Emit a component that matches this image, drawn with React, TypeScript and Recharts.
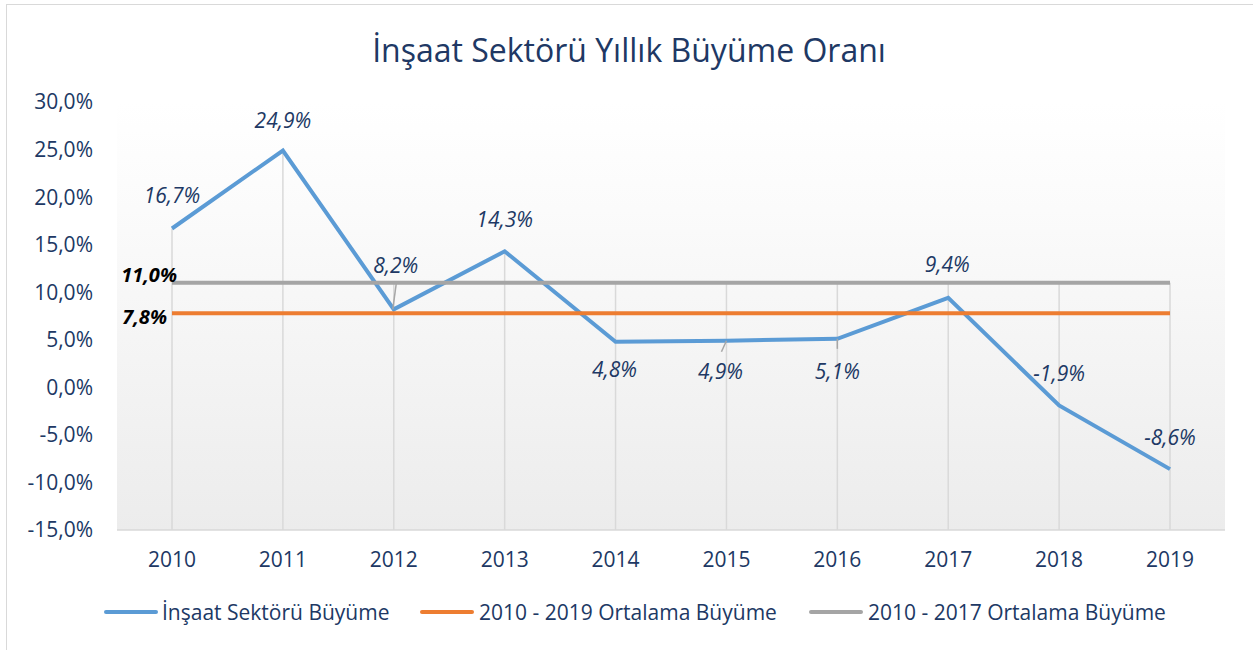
import React from 'react';
import { LineChart, Line, XAxis, YAxis, CartesianGrid, LabelList, ReferenceLine } from 'recharts';

const years = ['2010', '2011', '2012', '2013', '2014', '2015', '2016', '2017', '2018', '2019'];
const growth = [16.7, 24.9, 8.2, 14.3, 4.8, 4.9, 5.1, 9.4, -1.9, -8.6];
const avg2010to2019 = [7.8, 7.8, 7.8, 7.8, 7.8, 7.8, 7.8, 7.8, 7.8, 7.8];
const avg2010to2017 = [11.0, 11.0, 11.0, 11.0, 11.0, 11.0, 11.0, 11.0, 11.0, 11.0];
const yTicks = [-15, -10, -5, 0, 5, 10, 15, 20, 25, 30];
const seriesNames = ['İnşaat Sektörü Büyüme', '2010 - 2019 Ortalama Büyüme', '2010 - 2017 Ortalama Büyüme'];
const title = 'İnşaat Sektörü Yıllık Büyüme Oranı';

const NAVY = '#203864';
const COLORS = ['#5B9BD5', '#ED7D31', '#A5A5A5'];
const Y_MIN = -15;

const data = years.map((year, i) => ({
  year,
  growth: growth[i],
  avgA: avg2010to2019[i],
  avgB: avg2010to2017[i],
}));

// drop lines run from the highest series value down to the axis
const dropTops = years.map((_, i) => Math.max(growth[i], avg2010to2019[i], avg2010to2017[i]));

const fmt = (v: number) => `${v.toFixed(1).replace('.', ',')}%`;

// label placement relative to the point: [dx, dy, leader line]
const labelPos: [number, number, number[] | null][] = [
  [0, -33, null],
  [0, -31, null],
  [2, -44, [2.5, -26, -1, 0]],
  [0, -32, null],
  [-1, 27, null],
  [-6, 30, [-5, 11, 0, 0]],
  [0, 32, [0, 0, 0, 10]],
  [-1, -34, null],
  [0, -32, null],
  [0, -32, null],
];

const GrowthLabel = (props: any) => {
  const { x, y, value, index } = props;
  const [dx, dy, leader] = labelPos[index] || [0, -30, null];
  return (
    <g>
      {leader && (
        <line
          x1={x + leader[0]}
          y1={y + leader[1]}
          x2={x + leader[2]}
          y2={y + leader[3]}
          stroke="#a6a6a6"
          strokeWidth={1.5}
        />
      )}
      <text
        x={x + dx}
        y={y + dy}
        textAnchor="middle"
        dominantBaseline="central"
        fontStyle="italic"
        fontSize={21}
        fill={NAVY}
      >
        {fmt(value)}
      </text>
    </g>
  );
};

const AvgLabel = (props: any, dx: number, dy: number) => {
  const { x, y, value, index } = props;
  if (index !== 0) return null;
  return (
    <text
      x={x + dx}
      y={y + dy}
      textAnchor="end"
      dominantBaseline="central"
      fontStyle="italic"
      fontWeight="bold"
      fontSize={20}
      fill="#000"
    >
      {fmt(value)}
    </text>
  );
};

const legendPos = [
  { line: 104, text: 162 },
  { line: 420, text: 479 },
  { line: 809, text: 868 },
];

export default function App() {
  return (
    <div
      style={{
        position: 'fixed',
        left: 0,
        top: 0,
        width: 1253,
        height: 650,
        overflow: 'hidden',
        background: '#fff',
        fontFamily: "'Open Sans', sans-serif",
      }}
    >
      <div
        style={{
          position: 'absolute',
          left: 6,
          top: 4,
          width: 1300,
          height: 700,
          borderLeft: '1.5px solid #d9d9d9',
          borderTop: '1.5px solid #d9d9d9',
        }}
      />
      <div
        style={{
          position: 'absolute',
          left: 0,
          top: 28,
          width: 1258,
          textAlign: 'center',
          fontSize: 32,
          lineHeight: '44px',
          color: NAVY,
        }}
      >
        {title}
      </div>
      <div style={{ position: 'absolute', left: 0, top: 0 }}>
        <LineChart width={1253} height={650} data={data} margin={{ top: 102, right: 28, left: 0, bottom: 80 }}>
          <defs>
            <linearGradient id="plotBg" x1="0" y1="0" x2="0" y2="1">
              <stop offset="0%" stopColor="#ffffff" />
              <stop offset="25%" stopColor="#fbfbfb" />
              <stop offset="100%" stopColor="#ececec" />
            </linearGradient>
          </defs>
          <CartesianGrid horizontal={false} vertical={false} fill="url(#plotBg)" fillOpacity={1} />
          <XAxis
            dataKey="year"
            height={40}
            padding={{ left: 55, right: 55 }}
            tickLine={false}
            tickSize={0}
            tickMargin={22}
            axisLine={{ stroke: '#d9d9d9', strokeWidth: 1.5 }}
            tick={{ fill: NAVY, fontSize: 21 }}
            interval={0}
          />
          <YAxis
            width={117}
            domain={[Y_MIN, 30]}
            ticks={yTicks}
            interval={0}
            axisLine={false}
            tickLine={false}
            tickSize={0}
            tickMargin={24}
            tickFormatter={fmt}
            tick={{ fill: NAVY, fontSize: 21 }}
          />
          {years.map((year, i) => (
            <ReferenceLine
              key={year}
              segment={[
                { x: year, y: dropTops[i] },
                { x: year, y: Y_MIN },
              ]}
              stroke="#d9d9d9"
              strokeWidth={1.5}
            />
          ))}
          <Line
            type="linear"
            dataKey="growth"
            name={seriesNames[0]}
            stroke={COLORS[0]}
            strokeWidth={4}
            dot={false}
            activeDot={false}
            isAnimationActive={false}
          >
            <LabelList dataKey="growth" content={(p: any) => <GrowthLabel {...p} />} />
          </Line>
          <Line
            type="linear"
            dataKey="avgA"
            name={seriesNames[1]}
            stroke={COLORS[1]}
            strokeWidth={4}
            dot={false}
            activeDot={false}
            isAnimationActive={false}
          >
            <LabelList dataKey="avgA" content={(p: any) => AvgLabel(p, -5, 3)} />
          </Line>
          <Line
            type="linear"
            dataKey="avgB"
            name={seriesNames[2]}
            stroke={COLORS[2]}
            strokeWidth={4}
            dot={false}
            activeDot={false}
            isAnimationActive={false}
          >
            <LabelList dataKey="avgB" content={(p: any) => AvgLabel(p, 5, -8)} />
          </Line>
        </LineChart>
      </div>
      {seriesNames.map((name, i) => (
        <div key={name}>
          <div
            style={{
              position: 'absolute',
              left: legendPos[i].line,
              top: 610,
              width: 54,
              height: 4,
              borderRadius: 2,
              background: COLORS[i],
            }}
          />
          <div
            style={{
              position: 'absolute',
              left: legendPos[i].text,
              top: 597,
              fontSize: 21,
              lineHeight: '30px',
              color: NAVY,
              whiteSpace: 'nowrap',
            }}
          >
            {name}
          </div>
        </div>
      ))}
    </div>
  );
}
